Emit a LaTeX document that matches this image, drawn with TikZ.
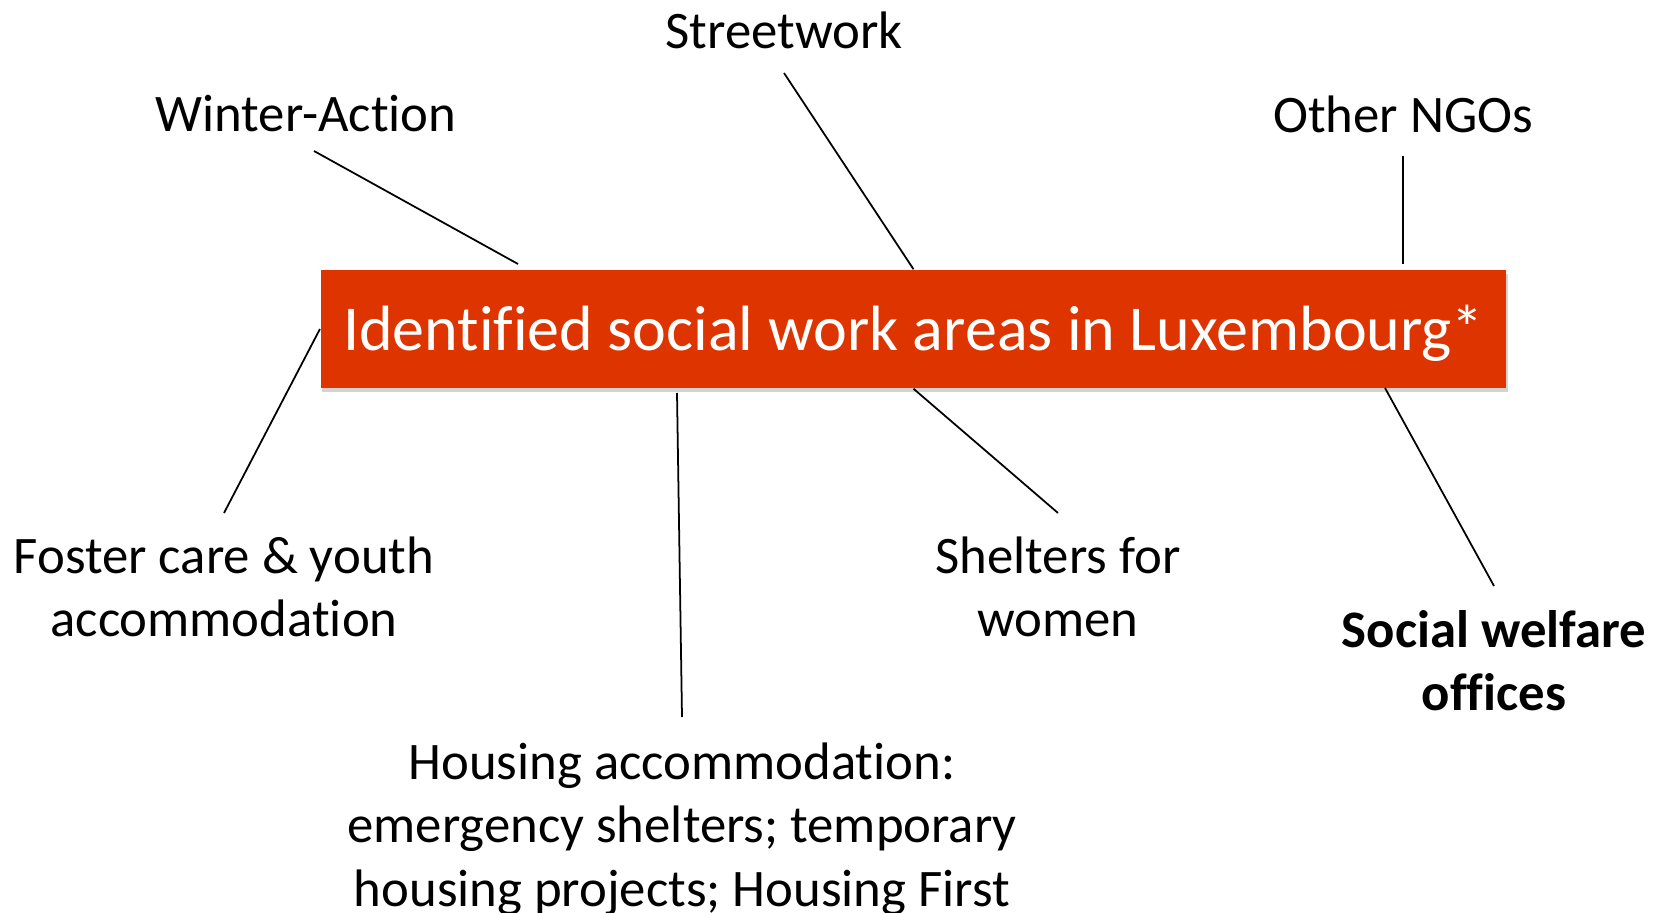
\documentclass[tikz,border=0pt]{standalone}
\usepackage{fontspec}
\setmainfont{Carlito}[Ligatures={NoCommon}]
\usepackage{tikz}
\usetikzlibrary{shadows}

\definecolor{areared}{RGB}{221,52,0}

\tikzset{
    areabox/.style={fill=areared, text=white, minimum width=11.85cm, minimum height=1.18cm,
        inner sep=0pt, text height=16pt, text depth=3.6pt, font=\fontsize{18.2}{21.8}\selectfont,
        drop shadow={shadow xshift=0.4pt, shadow yshift=-1.2pt, opacity=0.35}},
    arealabel/.style={align=center, inner sep=0pt, font=\fontsize{15}{18}\selectfont},
    spoke/.style={draw=black, line width=0.5pt}
}

\begin{document}
\begin{tikzpicture}[x=0.01cm, y=-0.01cm]
    % page size of the reference
    \useasboundingbox (0,0) rectangle (1658,913);

    % Central box
    \node[areabox] (areas) at (913.5,329) {Identified social work areas in Luxembourg*};

    % Labels around the box
    \node[arealabel] (streetwork) at (784,30) {Streetwork};
    \node[arealabel] (winter) at (306,114) {Winter-Action};
    \node[arealabel] (ngos) at (1403,114) {Other NGOs};
    \node[arealabel] (foster) at (224,587) {Foster care \& youth\\accommodation};
    \node[arealabel] (shelters) at (1058,587) {Shelters for\\women};
    \node[arealabel, font=\fontsize{15}{18}\selectfont\bfseries] (welfare) at (1494,661)
        {Social welfare\\offices};
    \node[arealabel] (housing) at (682,829)
        {Housing accommodation:\\emergency shelters; temporary\\housing projects; Housing First};

    % Free ends of the spokes
    \coordinate (streetwork-end) at (784,73);
    \coordinate (winter-end) at (314,151);
    \coordinate (winter-box) at (518,264);
    \coordinate (ngos-end) at (1403,156);
    \coordinate (ngos-box) at (1403,264);
    \coordinate (foster-end) at (224,513);
    \coordinate (housing-box) at (677,393);
    \coordinate (housing-end) at (682,717);
    \coordinate (shelters-end) at (1058,513);
    \coordinate (welfare-box) at (1385,388);
    \coordinate (welfare-end) at (1494,586);

    % Spokes
    \draw[spoke] (streetwork-end) -- (areas.north);
    \draw[spoke] (winter-end) -- (winter-box);
    \draw[spoke] (ngos-end) -- (ngos-box);
    \draw[spoke] (areas.west) -- (foster-end);
    \draw[spoke] (housing-box) -- (housing-end);
    \draw[spoke] (areas.south) -- (shelters-end);
    \draw[spoke] (welfare-box) -- (welfare-end);
\end{tikzpicture}
\end{document}
